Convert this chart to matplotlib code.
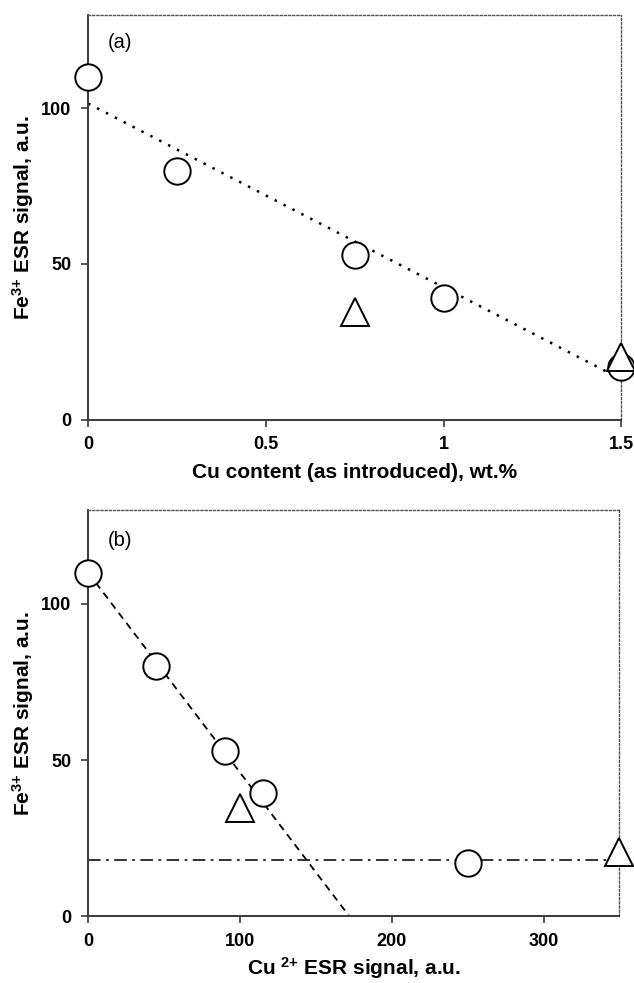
import matplotlib
matplotlib.use("Agg")
import matplotlib.pyplot as plt

plt.rcParams['font.family'] = ['Liberation Sans', 'DejaVu Sans']
plt.rcParams['mathtext.fontset'] = 'custom'
plt.rcParams['mathtext.rm'] = 'Liberation Sans:bold'
plt.rcParams['mathtext.bf'] = 'Liberation Sans:bold'
plt.rcParams['mathtext.it'] = 'Liberation Sans:bold'

# panel (a): Fe3+ signal vs Cu content
cu_content_circ = [0, 0.25, 0.75, 1.0, 1.5]
fe_a_circ = [110, 80, 53, 39, 17]
cu_content_tri = [0.75, 1.5]
fe_a_tri = [34.5, 20]
fit_a_x = [0, 1.5]
fit_a_y = [101.5, 13]

# panel (b): Fe3+ signal vs Cu2+ signal
cu_esr_circ = [0, 45, 90, 115, 250]
fe_b_circ = [110, 80, 53, 39.5, 17]
cu_esr_tri = [100, 350]
fe_b_tri = [34.5, 20.5]
fit_b_x = [0, 172]
fit_b_y = [110, 0]
plateau_x = [0, 350]
plateau_y = [18, 18]

spine_col = '#3a3a3a'
ylab = 'Fe$^{3{+}}$ ESR signal, a.u.'


def style_axes(ax):
    for s in ['left', 'bottom']:
        ax.spines[s].set_color(spine_col)
        ax.spines[s].set_linewidth(1.4)
    for s in ['top', 'right']:
        ax.spines[s].set_color('#555555')
        ax.spines[s].set_linewidth(1.0)
        ax.spines[s].set_linestyle((0, (1.5, 1.5)))
    ax.tick_params(direction='out', length=5, width=1.2, color=spine_col,
                   labelsize=13, pad=7, top=False, right=False)
    for lab in ax.get_xticklabels() + ax.get_yticklabels():
        lab.set_fontweight('bold')


fig = plt.figure(figsize=(6.34, 9.83), dpi=100)
ax1 = fig.add_axes([0.139, 0.573, 0.841, 0.412])
ax2 = fig.add_axes([0.139, 0.068, 0.838, 0.413])

mk = dict(linestyle='none', markerfacecolor='white', markeredgecolor='black',
          markeredgewidth=1.4, clip_on=False, zorder=5)

# (a)
ax1.plot(fit_a_x, fit_a_y, color='black', linestyle=(0, (1, 3)), linewidth=1.8)
ax1.plot(cu_content_circ, fe_a_circ, marker='o', markersize=19, **mk)
ax1.plot(cu_content_tri, fe_a_tri, marker='^', markersize=20, **mk)
ax1.set_xlim(0, 1.5)
ax1.set_ylim(0, 130)
ax1.set_xticks([0, 0.5, 1, 1.5])
ax1.set_xticklabels(['0', '0.5', '1', '1.5'])
ax1.set_yticks([0, 50, 100])
style_axes(ax1)
ax1.set_xlabel('Cu content (as introduced), wt.%', fontsize=15, fontweight='bold', labelpad=7)
ax1.set_ylabel(ylab, fontsize=15, fontweight='bold', labelpad=4)
ax1.text(0.036, 0.932, '(a)', transform=ax1.transAxes, fontsize=14.5, va='center')

# (b)
ax2.plot(fit_b_x, fit_b_y, color='black', linestyle=(0, (4, 3)), linewidth=1.3)
ax2.plot(plateau_x, plateau_y, color='#222222', linestyle=(0, (7, 3, 1.5, 3)), linewidth=1.3)
ax2.plot(cu_esr_circ, fe_b_circ, marker='o', markersize=19, **mk)
ax2.plot(cu_esr_tri, fe_b_tri, marker='^', markersize=20, **mk)
ax2.set_xlim(0, 350)
ax2.set_ylim(0, 130)
ax2.set_xticks([0, 100, 200, 300])
ax2.set_yticks([0, 50, 100])
style_axes(ax2)
ax2.set_xlabel('Cu $^{2{+}}$ ESR signal, a.u.', fontsize=15, fontweight='bold', labelpad=4)
ax2.set_ylabel(ylab, fontsize=15, fontweight='bold', labelpad=4)
ax2.text(0.036, 0.925, '(b)', transform=ax2.transAxes, fontsize=14.5, va='center')

fig.savefig('out.png', dpi=100)
